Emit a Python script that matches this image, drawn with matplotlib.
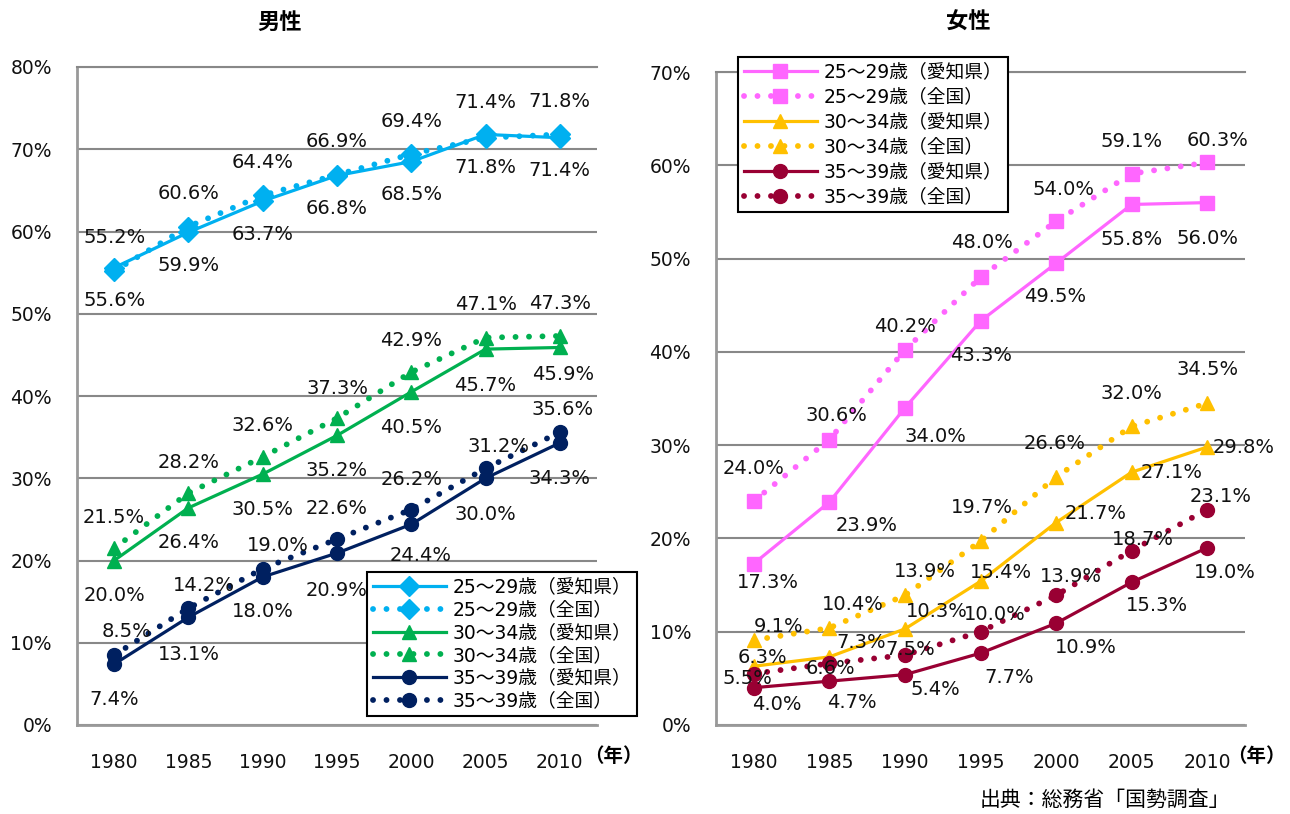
import matplotlib
matplotlib.use("Agg")
import matplotlib.pyplot as plt

plt.rcParams['font.family'] = ['DejaVu Sans', 'Noto Sans CJK JP']

years = ['1980', '1985', '1990', '1995', '2000', '2005', '2010']

# 男性
m25_aichi = [55.6, 59.9, 63.7, 66.8, 68.5, 71.8, 71.4]
m25_nat = [55.2, 60.6, 64.4, 66.9, 69.4, 71.4, 71.8]
m30_aichi = [20.0, 26.4, 30.5, 35.2, 40.5, 45.7, 45.9]
m30_nat = [21.5, 28.2, 32.6, 37.3, 42.9, 47.1, 47.3]
m35_aichi = [7.4, 13.1, 18.0, 20.9, 24.4, 30.0, 34.3]
m35_nat = [8.5, 14.2, 19.0, 22.6, 26.2, 31.2, 35.6]

# 女性
f25_aichi = [17.3, 23.9, 34.0, 43.3, 49.5, 55.8, 56.0]
f25_nat = [24.0, 30.6, 40.2, 48.0, 54.0, 59.1, 60.3]
f30_aichi = [6.3, 7.3, 10.3, 15.4, 21.7, 27.1, 29.8]
f30_nat = [9.1, 10.4, 13.9, 19.7, 26.6, 32.0, 34.5]
f35_aichi = [4.0, 4.7, 5.4, 7.7, 10.9, 15.3, 19.0]
f35_nat = [5.5, 6.6, 7.5, 10.0, 13.9, 18.7, 23.1]

labels = ['25～29歳（愛知県）', '25～29歳（全国）',
          '30～34歳（愛知県）', '30～34歳（全国）',
          '35～39歳（愛知県）', '35～39歳（全国）']

# label offsets in pixels (dx, dy)
m_off = [
    [(0, -33)] * 7,
    [(0, 33)] * 5 + [(0, 35), (0, 33)],
    [(0, -35), (0, -35), (0, -35), (0, -35), (0, -36), (0, -36), (3, -27)],
    [(0, 31), (0, 31), (0, 31), (0, 30), (0, 32), (0, 33), (0, 32)],
    [(0, -35), (0, -37), (0, -35), (0, -37), (9, -31), (0, -36), (0, -36)],
    [(12, 24), (15, 23), (15, 23), (0, 31), (0, 30), (13, 22), (3, 23)],
]
f_off = [
    [(14, -19), (37, -23), (31, -29), (1, -34), (-1, -33), (0, -35), (0, -36)],
    [(0, 33), (7, 24), (0, 23), (1, 35), (7, 32), (0, 32), (10, 22)],
    [(9, 9), (32, 14), (32, 17), (20, 9), (40, 9), (40, 0), (36, 0)],
    [(25, 14), (23, 23), (20, 24), (1, 34), (-1, 33), (0, 33), (0, 34)],
    [(23, -17), (23, -21), (30, -15), (29, -24), (30, -24), (25, -23), (18, -25)],
    [(-6, -5), (1, -5), (5, 6), (14, 17), (15, 19), (11, 11), (13, 13)],
]

fig = plt.figure(figsize=(12.9, 8.14), dpi=100)
ax1 = fig.add_axes([77/1290, 89/814, 520/1290, 658/814])
ax2 = fig.add_axes([716/1290, 89/814, 529/1290, 653/814])

x = list(range(len(years)))
dot = (0, (0.01, 2.3))


def draw(ax, series, colors, markers, offs, ymax):
    hs = []
    for k, s in enumerate(series):
        c = colors[k // 2]
        mk = markers[k // 2]
        if k % 2 == 0:
            h, = ax.plot(x, s, color=c, lw=2.3, marker=mk, ms=10, zorder=3)
        else:
            h, = ax.plot(x, s, color=c, lw=4.2, ls=dot, dash_capstyle='round',
                         marker=mk, ms=10, zorder=3)
        hs.append(h)
        for i, v in enumerate(s):
            dx, dy = offs[k][i]
            ax.annotate(f'{v:.1f}%', (i, v), xytext=(dx, dy), textcoords='offset pixels',
                        ha='center', va='center', fontsize=14, color='#111111', zorder=4)
    ax.set_xlim(-0.5, 6.5)
    ax.set_ylim(0, ymax)
    ax.set_yticks(range(0, ymax + 1, 10))
    ax.set_yticklabels([f'{t}%' for t in range(0, ymax + 1, 10)])
    ax.set_xticks(x)
    ax.set_xticklabels(years)
    ax.tick_params(length=0, labelsize=13.5, colors='#111111')
    ax.tick_params(axis='y', pad=18)
    ax.tick_params(axis='x', pad=20)
    ax.grid(axis='y', color='#888888', lw=1.5, zorder=0)
    ax.set_axisbelow(True)
    ax.spines['right'].set_visible(False)
    ax.spines['top'].set_color('#888888')
    ax.spines['top'].set_linewidth(1.5)
    for sp in ['left', 'bottom']:
        ax.spines[sp].set_color('#999999')
        ax.spines[sp].set_linewidth(2)
    return hs


hm = draw(ax1, [m25_aichi, m25_nat, m30_aichi, m30_nat, m35_aichi, m35_nat],
          ['#00B0F0', '#00B050', '#002060'], ['D', '^', 'o'], m_off, 80)
hf = draw(ax2, [f25_aichi, f25_nat, f30_aichi, f30_nat, f35_aichi, f35_nat],
          ['#FF66FF', '#FFC000', '#990033'], ['s', '^', 'o'], f_off, 70)

for ax, hs, pos, sp in [(ax1, hm, (367/1290, 1 - 572/814), 0.2),
                        (ax2, hf, (738/1290, 1 - 57/814), 0.32)]:
    leg = ax.legend(hs, labels, loc='upper left', bbox_to_anchor=pos,
                    bbox_transform=fig.transFigure, borderaxespad=0, fontsize=13.5,
                    handlelength=3.9, handletextpad=0.35, labelspacing=sp, borderpad=0.3,
                    fancybox=False, framealpha=1, edgecolor='black')
    leg.get_frame().set_linewidth(1.5)
    leg.set_zorder(5)

fig.text(280/1290, 1 - 22/814, '男性', ha='center', va='center', fontsize=16, fontweight='bold')
fig.text(968/1290, 1 - 22/814, '女性', ha='center', va='center', fontsize=16, fontweight='bold')
fig.text(613/1290, 1 - 757/814, '（年）', ha='center', va='center', fontsize=14, fontweight='bold')
fig.text(1256/1290, 1 - 757/814, '（年）', ha='center', va='center', fontsize=14, fontweight='bold')
fig.text(1230/1290, 1 - 800/814, '出典：総務省「国勢調査」', ha='right', va='center', fontsize=15)

fig.savefig('out.png', dpi=100)
